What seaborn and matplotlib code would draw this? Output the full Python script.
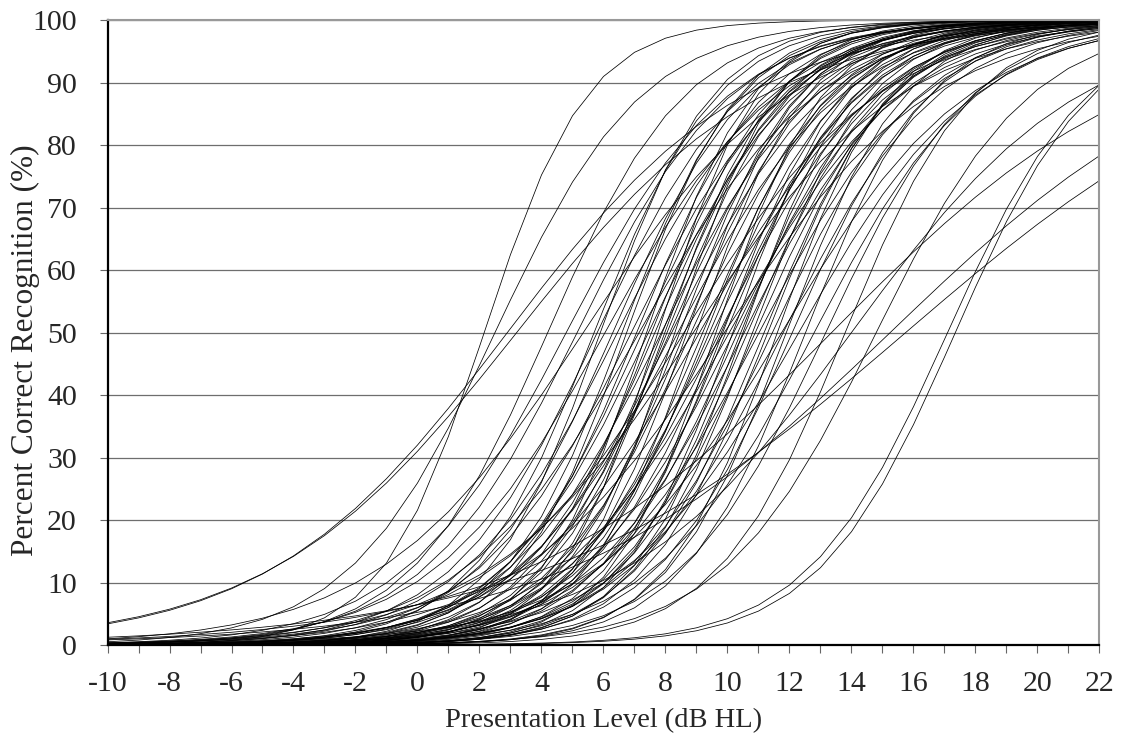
import matplotlib
matplotlib.use('Agg')
import numpy as np
import pandas as pd
import matplotlib.pyplot as plt
import seaborn as sns

# Presentation levels (dB HL) at which each psychometric function is drawn
niveles = np.arange(-10, 23)

# 50% point (dB HL) of each word's psychometric function
umbral_50 = [
    2.15, 2.5, 2.9, 3.2, 4.2, 4.8, 5.15, 5.35, 5.7, 5.8,
    5.9, 6.05, 6.3, 6.45, 6.6, 6.75, 6.9, 7.07, 7.15, 7.25,
    7.39, 7.45, 7.55, 7.66, 7.76, 7.87, 7.9, 7.98, 8.05, 8.14,
    8.2, 8.30, 8.4, 8.46, 8.6, 8.62, 8.7, 8.83, 8.9, 8.99,
    9.10, 9.2, 9.31, 9.42, 9.53, 9.63, 9.74, 9.8, 9.85, 9.9,
    9.95, 10.06, 10.17, 10.2, 10.33, 10.43, 10.5, 10.54, 10.65, 10.81,
    10.9, 11.02, 11.18, 11.3, 11.45, 11.61, 11.75, 11.8, 11.9, 12.09,
    12.30, 12.52, 12.8, 13.17, 13.36, 13.8, 14.0, 14.8, 15.25, 15.75,
    17.1, 17.35,
]

# slope parameter (per dB) of each function, same order as umbral_50
pendiente = [
    0.60, 0.42, 0.26, 0.25, 0.45, 0.38, 0.40, 0.30, 0.50, 0.42,
    0.55, 0.36, 0.45, 0.40, 0.52, 0.55, 0.40, 0.48, 0.35, 0.44,
    0.58, 0.42, 0.50, 0.46, 0.62, 0.40, 0.50, 0.55, 0.50, 0.45,
    0.40, 0.60, 0.38, 0.52, 0.32, 0.48, 0.55, 0.44, 0.30, 0.56,
    0.35, 0.47, 0.50, 0.46, 0.42, 0.58, 0.40, 0.45, 0.52, 0.30,
    0.48, 0.36, 0.55, 0.40, 0.44, 0.50, 0.55, 0.40, 0.46, 0.52,
    0.45, 0.38, 0.48, 0.50, 0.42, 0.55, 0.33, 0.40, 0.52, 0.45,
    0.35, 0.50, 0.38, 0.42, 0.20, 0.48, 0.27, 0.40, 0.19, 0.17,
    0.44, 0.45,
]

filas = []
for i, (m, k) in enumerate(zip(umbral_50, pendiente)):
    pct = 100.0 / (1.0 + np.exp(-k * (niveles - m)))
    for x, y in zip(niveles, pct):
        filas.append({'palabra': i, 'nivel': x, 'pct': y})
df = pd.DataFrame(filas)

sns.set_style('ticks')
plt.rcParams['font.family'] = ['Liberation Serif', 'DejaVu Serif']

fig = plt.figure(figsize=(11.21, 7.42), dpi=100)
ax = fig.add_axes([0.0959, 0.1307, 0.8849, 0.8423])

# horizontal gridlines every 10 %
for y in range(10, 101, 10):
    ax.axhline(y, color='#6e6e6e', lw=0.9, zorder=0)

sns.lineplot(data=df, x='nivel', y='pct', units='palabra', estimator=None,
             color='black', linewidth=0.55, ax=ax, legend=False)

ax.set_xlim(-10, 22)
ax.set_ylim(0, 100)
ax.set_xticks(niveles)
ax.set_xticklabels([str(v) if v % 2 == 0 else '' for v in niveles])
ax.set_yticks(range(0, 101, 10))
ax.tick_params(axis='both', labelsize=21.5, length=6, width=0.8, color='#666666',
               direction='out')
ax.tick_params(axis='x', pad=12.5)
ax.tick_params(axis='y', pad=16)

for lado in ['top', 'right']:
    ax.spines[lado].set_color('#999999')
    ax.spines[lado].set_linewidth(1.5)
for lado in ['left', 'bottom']:
    ax.spines[lado].set_color('black')
    ax.spines[lado].set_linewidth(1.6)

ax.set_xlabel('Presentation Level (dB HL)', fontsize=20.5)
ax.set_ylabel('Percent Correct Recognition (%)', fontsize=22.5)
ax.xaxis.set_label_coords(0.5, -0.101)
ax.yaxis.set_label_coords(-0.068, 0.472)

fig.savefig('out.png', dpi=100)
plt.close(fig)
